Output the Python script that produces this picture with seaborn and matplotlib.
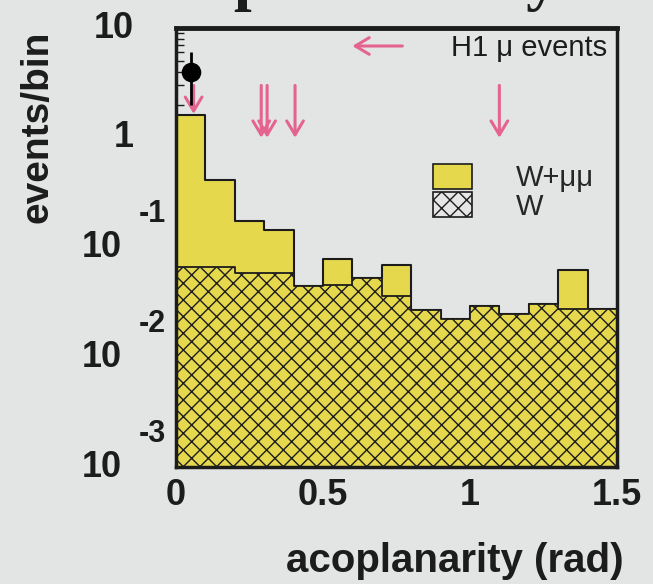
import numpy as np
import pandas as pd
import matplotlib
matplotlib.use("Agg")
import matplotlib.pyplot as plt
from matplotlib.patches import Patch
from matplotlib.ticker import LogLocator, NullFormatter
import seaborn as sns

# ---------------- data ----------------
bin_centers = [0.05, 0.15, 0.25, 0.35, 0.45, 0.55, 0.65, 0.75,
               0.85, 0.95, 1.05, 1.15, 1.25, 1.35, 1.45]
total_mc = [1.61, 0.41, 0.176, 0.143, 0.0445, 0.0778, 0.0531, 0.0697,
            0.0267, 0.0221, 0.0292, 0.0249, 0.0308, 0.0618, 0.0273]
w_mc = [0.066, 0.066, 0.059, 0.059, 0.0445, 0.0452, 0.0531, 0.0359,
        0.0267, 0.0221, 0.0292, 0.0249, 0.0308, 0.0273, 0.0273]

obs_x = [0.05]
obs_y = [4.0]
obs_err = [2.0]

event_x = [0.06, 0.29, 0.31, 0.405, 1.10]
event_top = [3.0, 3.0, 3.0, 3.0, 3.0]
event_bottom = [1.65, 1.0, 1.0, 1.0, 1.0]

legend_arrow_x = [0.77, 0.60]
legend_arrow_y = 6.86

xtick_vals = [0, 0.5, 1, 1.5]
xtick_labels = ["0", "0.5", "1", "1.5"]
ytick_vals = [10, 1, 0.1, 0.01, 0.001]
ytick_base = ["10", "1", "10", "10", "10"]
ytick_exp = ["", "", "-1", "-2", "-3"]

series_labels = ["W+\u03bc\u03bc", "W"]

# ---------------- style ----------------
BG = "#e3e5e5"
YELLOW = "#e6d84c"
PINK = "#e4648f"
INK = "#1c1c1c"

sns.set_style("ticks")
plt.rcParams["font.family"] = ["Liberation Sans", "DejaVu Sans"]
plt.rcParams["hatch.color"] = "#222222"
plt.rcParams["hatch.linewidth"] = 1.0

fig = plt.figure(figsize=(6.53, 5.84), dpi=100, facecolor=BG)
ax = fig.add_axes([0.2695, 0.2003, 0.6753, 0.7517], facecolor=BG)
ax.set_yscale("log")

df = pd.DataFrame({"acop": bin_centers, "tot": total_mc, "w": w_mc})

sns.histplot(data=df, x="acop", weights="tot", binwidth=0.1, binrange=(0, 1.5),
             element="step", fill=True, color=YELLOW, alpha=1,
             edgecolor=INK, linewidth=1.5, ax=ax)
sns.histplot(data=df, x="acop", weights="w", binwidth=0.1, binrange=(0, 1.5),
             element="step", fill=True, color=YELLOW, alpha=1, hatch="xx",
             edgecolor=INK, linewidth=1.3, ax=ax)

# H1 events arrows
for xv, yt, yb in zip(event_x, event_top, event_bottom):
    ax.annotate("", xy=(xv, yb), xytext=(xv, yt),
                arrowprops=dict(arrowstyle="->,head_length=1.0,head_width=0.6",
                                color=PINK, lw=2.2, mutation_scale=10,
                                shrinkA=0, shrinkB=0))
ax.annotate("", xy=(legend_arrow_x[1], legend_arrow_y),
            xytext=(legend_arrow_x[0], legend_arrow_y),
            arrowprops=dict(arrowstyle="->,head_length=1.0,head_width=0.6",
                            color=PINK, lw=2.2, mutation_scale=10,
                            shrinkA=0, shrinkB=0))

# data point
ax.errorbar(obs_x, obs_y, yerr=[obs_err, obs_err], fmt="none",
            ecolor="black", elinewidth=2, capsize=0, zorder=5)
sns.scatterplot(x=obs_x, y=obs_y, color="black", s=170, ax=ax,
                zorder=6, edgecolor="black", legend=False)

ax.text(0.977, 0.954, "H1 \u03bc events", transform=ax.transAxes,
        ha="right", va="center", fontsize=21, color=INK)

# legend
handles = [Patch(facecolor=YELLOW, edgecolor=INK, linewidth=1.2),
           Patch(facecolor="#e6e6e6", edgecolor=INK, hatch="xx", linewidth=1.2)]
ax.legend(handles, series_labels, loc="upper left",
          bbox_to_anchor=(0.583, 0.69), frameon=False, fontsize=21,
          handlelength=1.34, handleheight=0.92, handletextpad=1.5,
          labelspacing=0.0, borderpad=0, borderaxespad=0)

# axes
ax.set_xlim(0, 1.5)
ax.set_ylim(1e-3, 10)
ax.set_xticks(xtick_vals)
ax.set_xticklabels(xtick_labels, fontsize=26, fontweight="bold", color=INK)
ax.set_yticks(ytick_vals)
ax.yaxis.set_minor_locator(LogLocator(base=10, subs=np.arange(2, 10)))
ax.yaxis.set_minor_formatter(NullFormatter())
ax.tick_params(axis="both", which="both", direction="in", color=INK)
ax.tick_params(axis="x", which="major", length=10, width=1.3, pad=8)
ax.tick_params(axis="y", which="major", length=10, width=1.3, labelleft=False)
ax.tick_params(axis="y", which="minor", length=6, width=1.0)
for side, sp in ax.spines.items():
    sp.set_visible(True)
    sp.set_color(INK)
    sp.set_linewidth(3.5 if side == "top" else 2.5)

trans = ax.get_yaxis_transform()
for v, b, e in zip(ytick_vals, ytick_base, ytick_exp):
    if e:
        ax.annotate(b, xy=(-0.1224, v), xycoords=trans, ha="right", va="center",
                    fontsize=26, fontweight="bold", color=INK, annotation_clip=False)
        ax.annotate(e, xy=(-0.0227, v), xycoords=trans, xytext=(0, 24),
                    textcoords="offset points", ha="right", va="center",
                    fontsize=22, fontweight="bold", color=INK, annotation_clip=False)
    else:
        ax.annotate(b, xy=(-0.0952, v), xycoords=trans, ha="right", va="center",
                    fontsize=26, fontweight="bold", color=INK, annotation_clip=False)

ax.set_xlabel("acoplanarity (rad)", fontsize=29, fontweight="bold", color=INK,
              loc="right")
ax.xaxis.label.set_va("center")
ax.xaxis.set_label_coords(1.014, -0.213)
ax.set_ylabel("events/bin", fontsize=28, fontweight="bold", color=INK)
ax.yaxis.label.set_va("center")
ax.yaxis.set_label_coords(-0.315, 0.774)

# title of the original slide, cut off by the top edge as in the reference
fig.text(0.606, 1 + 2 / 584, "preliminary", ha="center", va="baseline",
         fontsize=46, fontweight="bold", family="Liberation Serif", color=INK)

fig.savefig("out.png", dpi=100, facecolor=BG)
